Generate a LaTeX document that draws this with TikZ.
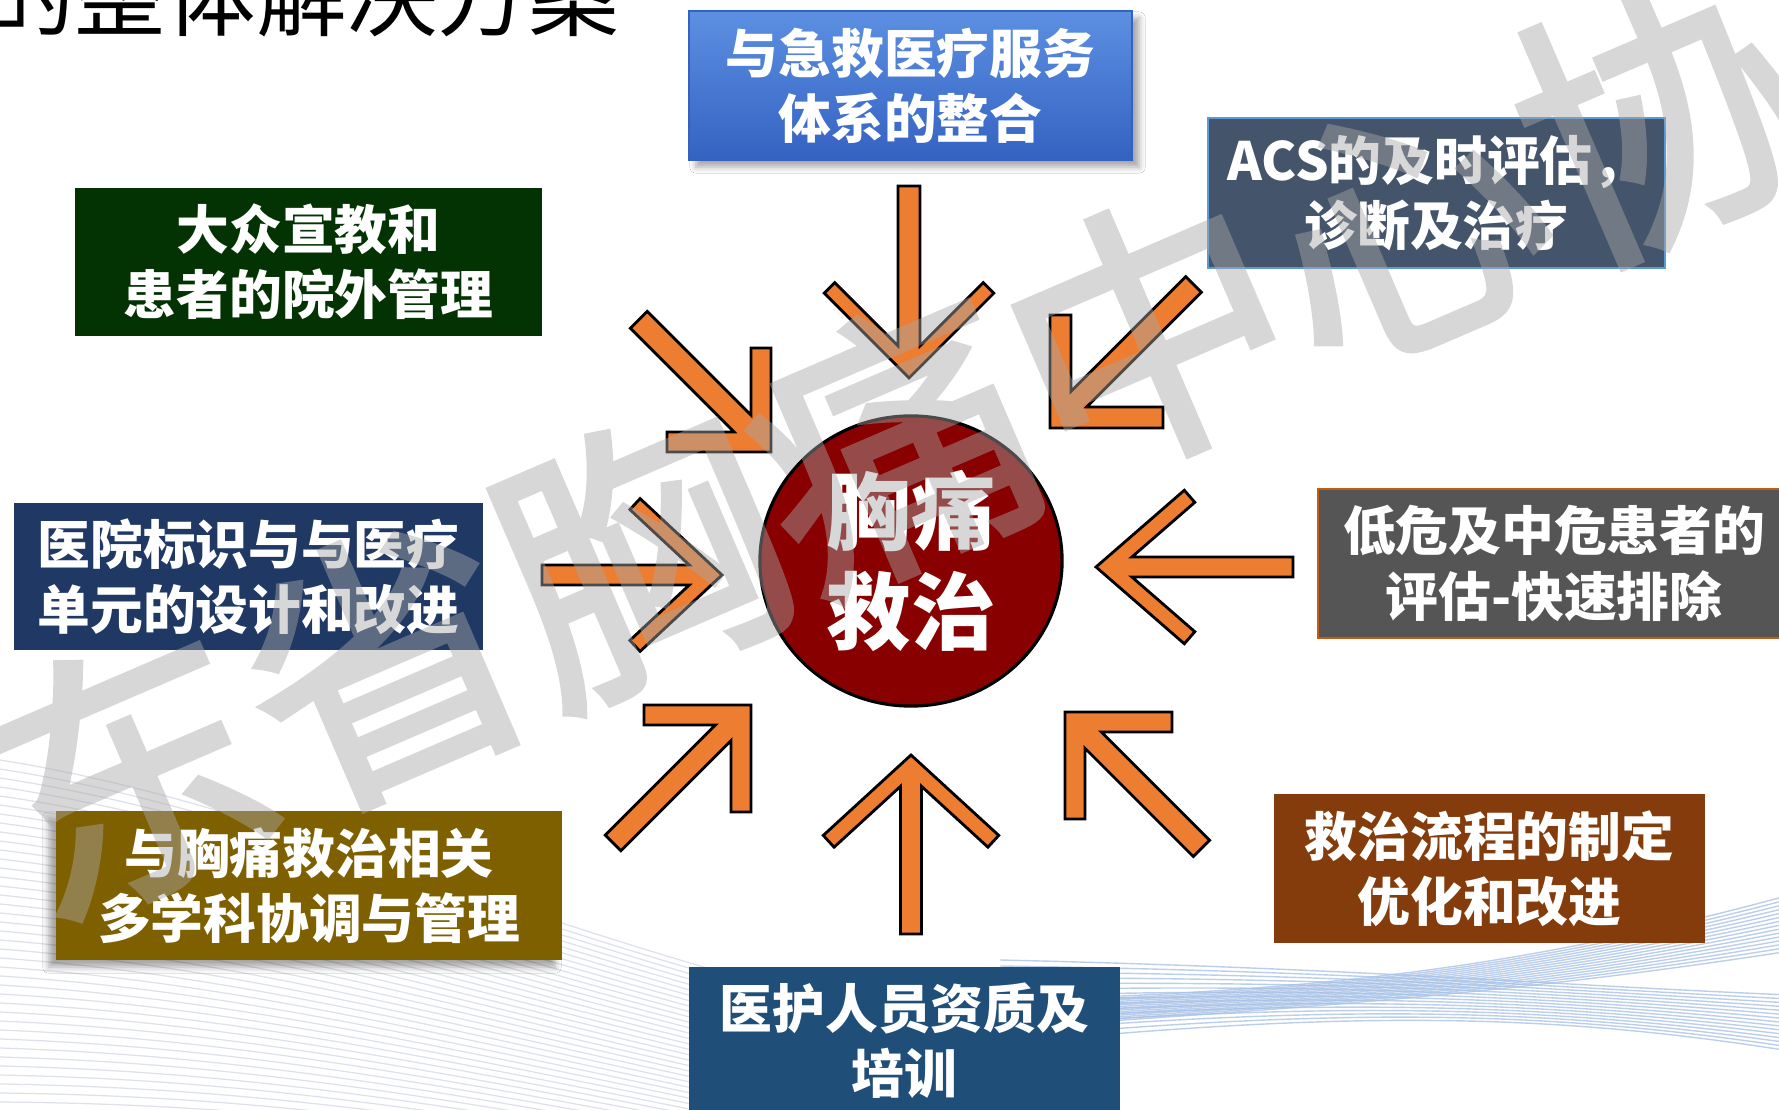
\documentclass[tikz,border=0pt]{standalone}
\usepackage{fontspec}
\newfontfamily\cjk{Noto Sans CJK SC}
\newfontfamily\wmfont{Noto Sans CJK SC}[FakeBold=2.2]
\usetikzlibrary{shapes.geometric,shadows.blur}
\definecolor{arroworange}{HTML}{ED7D31}
\definecolor{boxgreen}{HTML}{033303}
\definecolor{boxnavy}{HTML}{1F3864}
\definecolor{boxgray}{HTML}{555555}
\definecolor{boxolive}{HTML}{7F6000}
\definecolor{boxbrown}{HTML}{843C0C}
\definecolor{boxsteel}{HTML}{1F4E79}
\definecolor{boxslate}{HTML}{44546A}
\definecolor{slateedge}{HTML}{5B9BD5}
\definecolor{grayedge}{HTML}{C55A11}
\definecolor{circred}{HTML}{880000}
\definecolor{topblueA}{HTML}{5C90E2}
\definecolor{topblueB}{HTML}{3462C2}
\definecolor{wmgray}{RGB}{168,168,168}
\definecolor{fanline}{RGB}{222,225,236}
\definecolor{meshline}{RGB}{165,192,230}
\tikzset{
  chevstyle/.style={fill=arroworange, draw=black, line width=0.8pt, line join=miter},
  boxnode/.style={inner sep=0pt, align=center, text=white,
    font=\cjk\bfseries\fontsize{15}{18.5}\selectfont},
  fanstyle/.style={draw=fanline, line width=0.35pt},
  meshstyle/.style={draw=meshline, line width=0.4pt, opacity=0.75},
}
\newcommand\chevarrow[8]{%
  \draw[chevstyle, shift={(#1,#2)}, rotate=#3]
    (0,0) -- ({-#5*cos(#8)},{#5*sin(#8)})
    -- ({-#5*cos(#8)-#6*sin(#8)},{#5*sin(#8)-#6*cos(#8)})
    -- ({-(#6+#7*cos(#8))/sin(#8)},{#7})
    -- ({-#4},{#7}) -- ({-#4},{-#7})
    -- ({-(#6+#7*cos(#8))/sin(#8)},{-#7})
    -- ({-#5*cos(#8)-#6*sin(#8)},{-(#5*sin(#8)-#6*cos(#8))})
    -- ({-#5*cos(#8)},{-#5*sin(#8)}) -- cycle;}
\begin{document}
\begin{tikzpicture}[x=0.01cm, y=-0.01cm]
\useasboundingbox (0,0) rectangle (1779,1110);
\fill[white] (0,0) rectangle (1779,1110);
% background decoration
\foreach \i in {0,...,38} {
  \draw[fanstyle] (0,{760+9*\i}) .. controls (250,{800+8*\i}) and (450,{900+6*\i}) .. (820,{1000+5*\i});
}
\foreach \i in {0,...,14} {
  \draw[meshstyle] (1000,{1000+2*\i}) .. controls (1350,{992+\i}) and (1550,{960+2*\i}) .. (1790,{895+4*\i});
  \draw[meshstyle] (1000,{960+6*\i}) .. controls (1350,{968+3*\i}) and (1550,{985+2*\i}) .. (1790,{995+4*\i});
}
% boxes
\node[boxnode, top color=topblueA, bottom color=topblueB, draw=topblueB, line width=0.5pt,
  blur shadow={shadow xshift=2pt, shadow yshift=-2pt, shadow opacity=35},
  minimum width=4.43cm, minimum height=1.49cm] (b1) at (910.5,85.5) {与急救医疗服务\\体系的整合};
\node[boxnode, fill=boxslate, draw=slateedge, line width=0.7pt,
  minimum width=4.57cm, minimum height=1.50cm] (b2) at (1436.5,193) {ACS的及时评估，\\诊断及治疗};
\node[boxnode, fill=boxgreen, minimum width=4.67cm, minimum height=1.48cm] (b3) at (308.5,262) {大众宣教和\\患者的院外管理};
\node[boxnode, fill=boxnavy, minimum width=4.69cm, minimum height=1.47cm] (b4) at (248.5,576.5) {医院标识与与医疗\\单元的设计和改进};
\node[boxnode, fill=boxgray, draw=grayedge, line width=0.7pt,
  minimum width=4.72cm, minimum height=1.49cm] (b5) at (1554,563.5) {低危及中危患者的\\评估-快速排除};
\node[boxnode, fill=boxolive,
  blur shadow={shadow xshift=-2pt, shadow yshift=-2pt, shadow opacity=35},
  minimum width=5.06cm, minimum height=1.49cm] (b6) at (309,885.5) {与胸痛救治相关\\多学科协调与管理};
\node[boxnode, fill=boxbrown, minimum width=4.31cm, minimum height=1.49cm] (b7) at (1489.5,868.5) {救治流程的制定\\优化和改进};
\node[boxnode, fill=boxsteel, minimum width=4.31cm, minimum height=1.48cm] (b8) at (904.5,1041) {医护人员资质及\\培训};
% arrows: tip x, tip y, angle, length, arm length, arm thickness, half shaft, arm angle
\chevarrow{909}{378}{-90}{192}{120}{15}{11}{45}
\chevarrow{771}{452}{-45}{187}{104}{20}{12}{45}
\chevarrow{1050}{428}{-135}{203}{113}{21}{11}{45}
\chevarrow{1096}{567}{180}{197}{117}{16}{10}{41}
\chevarrow{722}{575}{0}{180}{112}{15}{10}{43}
\chevarrow{751}{705}{45}{195}{107}{20}{11}{45}
\chevarrow{911}{755}{90}{179}{119}{16}{10.5}{47.5}
\chevarrow{1065}{712}{135}{193}{107}{20}{11.5}{45}
% centre
\node[ellipse, draw=black, line width=0.9pt, fill=circred, minimum width=3.02cm, minimum height=2.90cm,
  inner sep=0pt, text=white, align=center, font=\cjk\bfseries\fontsize{24}{28.4}\selectfont] (c) at (911,561) {胸痛\\救治};
% watermark
\begin{scope}[transparency group, opacity=0.45]
\node[rotate=23.3, text=wmgray, inner sep=0pt,
  font=\wmfont\fontsize{79}{79}\selectfont] (wm) at (893,443) {东省胸痛中心协};
\end{scope}
% title fragment
\node[anchor=base east, inner sep=0pt, font=\cjk\fontsize{25.8}{25.8}\selectfont] (title) at (620,30) {的整体解决方案};
\end{tikzpicture}
\end{document}
